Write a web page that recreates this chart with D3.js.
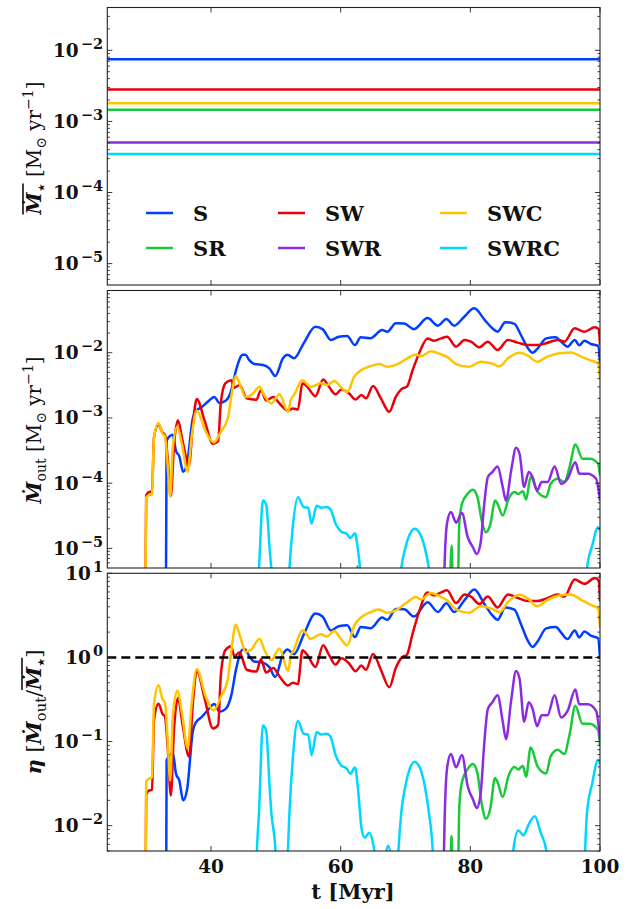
<!DOCTYPE html>
<html>
<meta charset="utf-8">
<script src="https://d3js.org/d3.v7.min.js"></script>
<style>
  body { margin: 0; background: white; }
  text { font-family: "DejaVu Serif", serif; font-weight: bold; fill: #111; }
</style>
<body>
<svg id="chart" width="635" height="909"></svg>
<script>

// ---------- data ----------
var runNames   = ["S", "SR", "SW", "SWR", "SWC", "SWRC"]
var runColours = ["#023eff", "#1ac938", "#e8000b", "#8b2be2", "#ffc400", "#00d7ff"]
// time-averaged star formation rate [Msun/yr]
var sfrMean = [7.5e-3, 1.46e-3, 2.8e-3, 5.06e-4, 1.8e-3, 3.47e-4]

// outflow rate [t (Myr), Mdot_out (Msun/yr)]; tiny values = below the plotted range
var mdotOutS = [[33.0,3e-7],[33.15,4.5e-4],[34.1,5.5e-4],[34.6,3.1e-4],[35.1,2.6e-4],[35.7,1.5e-4],
  [36.3,2.0e-4],[37.2,1.0e-3],[37.7,1.28e-3],[38.5,1.45e-3],[39.5,1.77e-3],[40.5,2.1e-3],[41.3,1.7e-3],
  [42.3,1.85e-3],[43.1,2.6e-3],[43.9,5.6e-3],[44.9,9.3e-3],[45.3,9.3e-3],[45.9,7.7e-3],[46.7,6.7e-3],
  [48.0,6.5e-3],[49.0,5.75e-3],[49.9,4.4e-3],[51.1,8.2e-3],[51.8,9.3e-3],[52.8,8.2e-3],[54.3,1.4e-2],
  [56.1,2.5e-2],[57.2,2.3e-2],[58.5,1.57e-2],[59.7,1.76e-2],[61.0,1.81e-2],[62.2,1.31e-2],[63.1,1.73e-2],
  [64.6,1.67e-2],[66.4,2.23e-2],[67.2,2.1e-2],[68.5,2.83e-2],[69.8,2.8e-2],[71.3,2.3e-2],[73.4,3.4e-2],
  [75.0,2.6e-2],[76.3,3.3e-2],[77.5,2.6e-2],[79.1,3.6e-2],[80.6,4.8e-2],[82.2,3.2e-2],[83.4,2.37e-2],
  [84.2,2.1e-2],[85.4,2.94e-2],[86.8,2.77e-2],[87.8,1.87e-2],[88.9,1.17e-2],[89.6,1.0e-2],[90.4,1.17e-2],
  [91.7,1.66e-2],[93.2,1.72e-2],[94.0,1.48e-2],[95.0,1.24e-2],[96.1,1.57e-2],[96.8,1.3e-2],[97.6,1.53e-2],
  [98.6,1.36e-2],[99.7,1.27e-2],[100,7.3e-3]]

var mdotOutSR = [[62.2,3e-7],[62.6,5.3e-6],[63.0,3e-7],[76.6,3e-7],[77.1,1.1e-5],[77.5,3e-7],[77.9,3e-7],
  [78.3,2.5e-5],[78.7,4.8e-5],[79.6,6.9e-5],[80.4,7.9e-5],[81.1,6.1e-5],[81.75,2.67e-5],[82.4,1.76e-5],
  [83.1,2.37e-5],[83.8,5.4e-5],[84.2,4.8e-5],[85.0,3.2e-5],[85.9,5.75e-5],[86.8,7.3e-5],[87.4,6.8e-5],
  [88.1,7.5e-5],[88.6,5.6e-5],[89.3,1.24e-4],[90.4,7.3e-5],[91.7,6.1e-5],[92.4,9.8e-5],[93.5,1.17e-4],
  [94.5,1.04e-4],[95.3,1.76e-4],[96.2,3.9e-4],[97.3,2.37e-4],[98.4,2.37e-4],[99.7,2.0e-4],[100,1.3e-4]]

var mdotOutSW = [[29.8,3e-7],[30.0,6.5e-5],[30.4,7.3e-5],[30.9,7.5e-5],[31.2,5.0e-4],[31.9,7.9e-4],
  [32.5,6.0e-4],[32.9,5.5e-4],[33.3,2.5e-4],[33.8,6.4e-5],[34.3,4.0e-4],[34.9,9.2e-4],[35.6,4.5e-4],
  [36.6,1.85e-4],[37.2,8e-4],[37.8,1.95e-3],[39.0,9.2e-4],[40.3,4.0e-4],[41.1,4.4e-4],[41.5,1.67e-3],
  [42.2,3.4e-3],[43.1,3.8e-3],[43.6,2.9e-3],[44.4,3.2e-3],[45.5,2.0e-3],[47.0,1.9e-3],[47.7,2.67e-3],
  [48.5,1.85e-3],[49.6,2.1e-3],[50.6,1.65e-3],[51.9,1.3e-3],[52.6,1.4e-3],[53.4,1.35e-3],[54.1,3.4e-3],
  [54.85,3.0e-3],[56.1,2.16e-3],[57.3,3.9e-3],[58.2,3.0e-3],[59.2,2.3e-3],[60.1,2.73e-3],[61.3,2.37e-3],
  [62.3,1.92e-3],[63.2,2.24e-3],[63.9,2.0e-3],[65.0,3.08e-3],[66.2,2.0e-3],[67.5,1.24e-3],[68.5,2.1e-3],
  [69.5,2.83e-3],[70.2,3.0e-3],[71.1,5.4e-3],[72.1,9.8e-3],[73.4,1.66e-2],[74.4,1.53e-2],[75.5,1.66e-2],
  [76.4,1.76e-2],[77.8,1.24e-2],[79.1,1.57e-2],[80.1,1.48e-2],[81.4,1.21e-2],[82.7,1.48e-2],[84.2,1.1e-2],
  [85.8,1.57e-2],[87.3,1.43e-2],[88.9,1.31e-2],[90.4,1.31e-2],[91.7,1.4e-2],[93.5,1.57e-2],[94.5,1.48e-2],
  [96.1,2.37e-2],[97.6,2.1e-2],[99.2,2.46e-2],[99.8,2.3e-2],[100,1.3e-2]]

var mdotOutSWR = [[75.8,3e-7],[75.95,3e-6],[76.4,2.4e-5],[77.0,3.6e-5],[77.8,2.5e-5],[78.7,3.5e-5],
  [79.6,1.48e-5],[80.4,1.04e-5],[81.0,8.2e-6],[81.6,1.24e-5],[82.1,4.3e-5],[82.7,1.24e-4],[83.4,1.48e-4],
  [84.2,1.8e-4],[85.0,8.7e-5],[85.5,5.4e-5],[86.3,1.57e-4],[87.05,3.5e-4],[87.6,2.8e-4],[88.3,8.7e-5],
  [89.0,1.48e-4],[89.6,1.24e-4],[90.3,7.7e-5],[91.0,1.04e-4],[91.9,1.04e-4],[93.0,1.8e-4],[94.0,9.8e-5],
  [95.0,1.17e-4],[96.2,2.1e-4],[96.8,1.4e-4],[98.1,1.4e-4],[99.4,1.17e-4],[100,5.4e-5]]

var mdotOutSWC = [[29.8,3e-7],[30.0,6.0e-5],[30.4,6.5e-5],[30.9,6.8e-5],[31.2,5.0e-4],[31.9,8.4e-4],
  [32.5,5.8e-4],[32.9,5.2e-4],[33.3,2.0e-4],[33.7,6.2e-5],[34.1,3.5e-4],[34.8,7.3e-4],[35.5,4.0e-4],
  [36.4,1.5e-4],[37.0,5.0e-4],[37.8,1.3e-3],[39.2,6.1e-4],[40.4,4.2e-4],[41.5,6.1e-4],[42.6,1.0e-3],
  [43.2,2.37e-3],[43.8,4.4e-3],[44.6,3.0e-3],[45.3,2.1e-3],[46.2,2.24e-3],[47.5,3.0e-3],[48.2,2.24e-3],
  [49.3,1.67e-3],[50.55,2.3e-3],[51.9,1.24e-3],[52.3,1.87e-3],[52.8,2.24e-3],[54.1,3.8e-3],[55.4,3.0e-3],
  [56.9,3.4e-3],[57.9,3.2e-3],[59.0,3.7e-3],[60.0,3.0e-3],[61.0,2.5e-3],[62.1,4.3e-3],[63.3,5.5e-3],
  [64.6,6.2e-3],[65.9,6.7e-3],[67.2,6.1e-3],[68.75,6.7e-3],[70.3,8.2e-3],[71.6,9.4e-3],[72.4,8.8e-3],
  [73.9,1.05e-2],[75.4,9.5e-3],[76.5,8.5e-3],[77.8,6.7e-3],[79.8,6.1e-3],[81.6,7.3e-3],[83.2,6.9e-3],
  [84.5,6.2e-3],[85.8,8.2e-3],[87.6,1.0e-2],[88.9,9.0e-3],[90.3,7.3e-3],[91.9,8.7e-3],[93.7,9.8e-3],
  [95.5,1.01e-2],[97.1,8.7e-3],[98.4,7.7e-3],[99.7,6.9e-3],[100,4.0e-3]]

var mdotOutSWRC = [[46.8,3e-7],[47.07,1.7e-6],[47.4,5e-6],[48.0,5.4e-5],[48.5,4.7e-5],[49.1,8.3e-6],
  [49.3,5e-6],[49.95,1.7e-6],[50.3,3e-7],[51.5,3e-7],[51.85,1.7e-6],[52.1,5e-6],[52.6,2.1e-5],[53.4,6.1e-5],
  [54.3,4.3e-5],[55.0,4.2e-5],[55.5,2.4e-5],[56.3,4.5e-5],[57.0,4.2e-5],[57.8,4.3e-5],[58.4,4.0e-5],
  [59.3,2.3e-5],[60.1,1.8e-5],[60.9,1.67e-5],[61.5,1.44e-5],[62.2,1.7e-5],[62.7,9.0e-6],[63.2,3.3e-6],
  [63.7,2.5e-6],[64.4,2.85e-6],[65.0,2.1e-6],[65.2,1.7e-6],[65.6,3e-7],[66.7,1.2e-6],[67.3,2.0e-6],
  [67.9,1.2e-6],[68.5,3e-7],[68.9,1.7e-6],[69.35,5e-6],[70.0,1.04e-5],[70.6,1.6e-5],[71.4,2.0e-5],
  [72.2,1.7e-5],[73.0,1.0e-5],[73.6,5e-6],[74.2,1.7e-6],[74.5,3e-7],[86.4,3e-7],[86.6,1.7e-6],
  [87.4,3.05e-6],[88.2,2.67e-6],[89.0,3.6e-6],[89.95,4.5e-6],[90.8,2.95e-6],[91.75,1.7e-6],[92.0,3e-7],
  [97.4,3e-7],[97.7,1.7e-6],[98.0,5e-6],[98.8,1.1e-5],[99.7,2.1e-5],[100,1.9e-5]]

var mdotOut = [mdotOutS, mdotOutSR, mdotOutSW, mdotOutSWR, mdotOutSWC, mdotOutSWRC]

var tLimits   = [24, 100]
var tTicks    = [40, 60, 80, 100]
var sfrLimits = [5e-6, 4e-2]
var outLimits = [5e-6, 9e-2]
var etaLimits = [5e-3, 10]
var sfrExps = [-5, -4, -3, -2]
var outExps = [-5, -4, -3, -2]
var etaExps = [-2, -1, 0, 1]

// ---------- layout ----------
var svg = d3.select("#chart")
var left = 107.3, right = 600
var panelBox = [[7.5, 285], [290.5, 568], [573.3, 851]]
var lw = 2.5
var x = d3.scaleLinear().domain(tLimits).range([left, right])

function minorTicks(limits){
  var out = []
  var lo = Math.floor(Math.log10(limits[0])), hi = Math.ceil(Math.log10(limits[1]))
  for (var e = lo; e <= hi; e++){
    for (var m = 1; m <= 9; m++){
      var v = m * Math.pow(10, e)
      if (v >= limits[0] && v <= limits[1]) out.push({v: v, major: m == 1})
    }
  }
  return out
}

function makePanel(i, limits, exps){
  var top = panelBox[i][0], bot = panelBox[i][1]
  var y = d3.scaleLog().domain(limits).range([bot, top])
  var g = svg.append("g")
  svg.append("clipPath").attr("id", "clip" + i).append("rect")
    .attr("x", left).attr("y", top).attr("width", right - left).attr("height", bot - top)
  var plot = g.append("g").attr("clip-path", "url(#clip" + i + ")")
  var axes = g.append("g")

  // y ticks, inward, both sides
  minorTicks(limits).forEach(function(d){
    var len = d.major ? 5 : 2.5
    axes.append("line").attr("x1", left).attr("x2", left + len)
      .attr("y1", y(d.v)).attr("y2", y(d.v)).attr("stroke", "#222").attr("stroke-width", 0.9)
    axes.append("line").attr("x1", right).attr("x2", right - len)
      .attr("y1", y(d.v)).attr("y2", y(d.v)).attr("stroke", "#222").attr("stroke-width", 0.9)
  })
  // x ticks top & bottom
  tTicks.forEach(function(t){
    axes.append("line").attr("x1", x(t)).attr("x2", x(t)).attr("y1", bot).attr("y2", bot - 5)
      .attr("stroke", "#222").attr("stroke-width", 0.9)
    axes.append("line").attr("x1", x(t)).attr("x2", x(t)).attr("y1", top).attr("y2", top + 5)
      .attr("stroke", "#222").attr("stroke-width", 0.9)
  })
  // y tick labels 10^e
  exps.forEach(function(e){
    var t = axes.append("text").attr("x", 103).attr("y", y(Math.pow(10, e)) + 6.5)
      .attr("text-anchor", "end").style("font-size", "18.5px")
    t.append("tspan").text("10")
    t.append("tspan").attr("dy", -8).attr("dx", 2).style("font-size", "14.5px")
      .text(e < 0 ? "\u2212" + (-e) : String(e))
  })
  g.append("rect").attr("x", left).attr("y", top).attr("width", right - left).attr("height", bot - top)
    .attr("fill", "none").attr("stroke", "#222").attr("stroke-width", 1.1)
  return {g: g, plot: plot, y: y}
}

// rotated y label built from pieces
function axisLabel(cx, cy, size, parts){
  var g = svg.append("g").attr("transform", "translate(" + cx + "," + cy + ") rotate(-90)")
  var t = g.append("text").attr("text-anchor", "middle").style("font-size", size + "px")
  var shift = 0, idx = 0, barChars = []
  parts.forEach(function(p){
    var want = p.sub ? 5 : (p.sup ? -8 : 0)
    var s = t.append("tspan").attr("dy", want - shift).text(p.s)
    shift = want
    if (p.sub || p.sup) s.style("font-size", (size * 0.7) + "px")
    if (p.it) s.style("font-style", "italic")
    if (p.thin) s.style("font-weight", "normal")
    if (p.bar) for (var k = 0; k < p.s.length; k++) barChars.push(idx + k)
    idx += p.s.length
  })
  if (barChars.length){
    var node = t.node(), x0 = 1e9, x1 = -1e9, y0 = 1e9
    barChars.forEach(function(c){
      var r = node.getExtentOfChar(c)
      x0 = Math.min(x0, r.x); x1 = Math.max(x1, r.x + r.width); y0 = Math.min(y0, r.y)
    })
    g.append("line").attr("x1", x0).attr("x2", x1).attr("y1", y0 + 1).attr("y2", y0 + 1)
      .attr("stroke", "#111").attr("stroke-width", 1.6)
  }
}

var line = function(y){
  return d3.line().x(function(d){ return x(d[0]) }).y(function(d){ return y(d[1]) }).curve(d3.curveMonotoneX)
}

// ---------- panel 1: mean SFR ----------
var p1 = makePanel(0, sfrLimits, sfrExps)
runNames.forEach(function(r, i){
  p1.plot.append("line").attr("x1", x(tLimits[0])).attr("x2", x(tLimits[1]))
    .attr("y1", p1.y(sfrMean[i])).attr("y2", p1.y(sfrMean[i]))
    .attr("stroke", runColours[i]).attr("stroke-width", lw)
})

// legend (3 columns, column-major)
var legX = [146, 278, 440], legY = [213, 248]
runNames.forEach(function(r, i){
  var cx = legX[Math.floor(i / 2)], cy = legY[i % 2]
  svg.append("line").attr("x1", cx).attr("x2", cx + 27).attr("y1", cy).attr("y2", cy)
    .attr("stroke", runColours[i]).attr("stroke-width", lw)
  svg.append("text").attr("x", cx + 47).attr("y", cy + 7.5).style("font-size", "21px").text(r)
})

// ---------- panel 2: outflow rate ----------
var p2 = makePanel(1, outLimits, outExps)
mdotOut.forEach(function(series, i){
  p2.plot.append("path").datum(series).attr("d", line(p2.y))
    .attr("fill", "none").attr("stroke", runColours[i]).attr("stroke-width", lw)
    .attr("stroke-linejoin", "round")
})

// ---------- panel 3: mass loading ----------
var p3 = makePanel(2, etaLimits, etaExps)
mdotOut.forEach(function(series, i){
  var eta = series.map(function(d){ return [d[0], d[1] / sfrMean[i]] })
  p3.plot.append("path").datum(eta).attr("d", line(p3.y))
    .attr("fill", "none").attr("stroke", runColours[i]).attr("stroke-width", lw)
    .attr("stroke-linejoin", "round")
})
p3.plot.append("line").attr("x1", left).attr("x2", right).attr("y1", p3.y(1)).attr("y2", p3.y(1))
  .attr("stroke", "black").attr("stroke-width", 2.5).attr("stroke-dasharray", "9,5")

// x tick labels + label
tTicks.forEach(function(t){
  svg.append("text").attr("x", x(t)).attr("y", 873).attr("text-anchor", "middle")
    .style("font-size", "18.5px").text(t)
})
svg.append("text").attr("x", 353).attr("y", 899).attr("text-anchor", "middle")
  .style("font-size", "21px").text("t [Myr]")

// y labels
axisLabel(41, 148, 20, [
  {s: "\u1E40", it: 1, bar: 1}, {s: "\u22C6", sub: 1, bar: 1},
  {s: " [M", thin: 1}, {s: "\u2299", sub: 1, thin: 1}, {s: " yr", thin: 1}, {s: "\u22121", sup: 1, thin: 1}, {s: "]", thin: 1}])
axisLabel(41, 430, 20, [
  {s: "\u1E40", it: 1}, {s: "out", sub: 1, thin: 1},
  {s: " [M", thin: 1}, {s: "\u2299", sub: 1, thin: 1}, {s: " yr", thin: 1}, {s: "\u22121", sup: 1, thin: 1}, {s: "]", thin: 1}])
axisLabel(41, 712, 21, [
  {s: "\u03B7", it: 1}, {s: " [", thin: 1}, {s: "\u1E40", it: 1}, {s: "out", sub: 1, thin: 1},
  {s: "/", thin: 1}, {s: "\u1E40", it: 1, bar: 1}, {s: "\u22C6", sub: 1, bar: 1}, {s: "]", thin: 1}])

</script>
</body>
</html>
